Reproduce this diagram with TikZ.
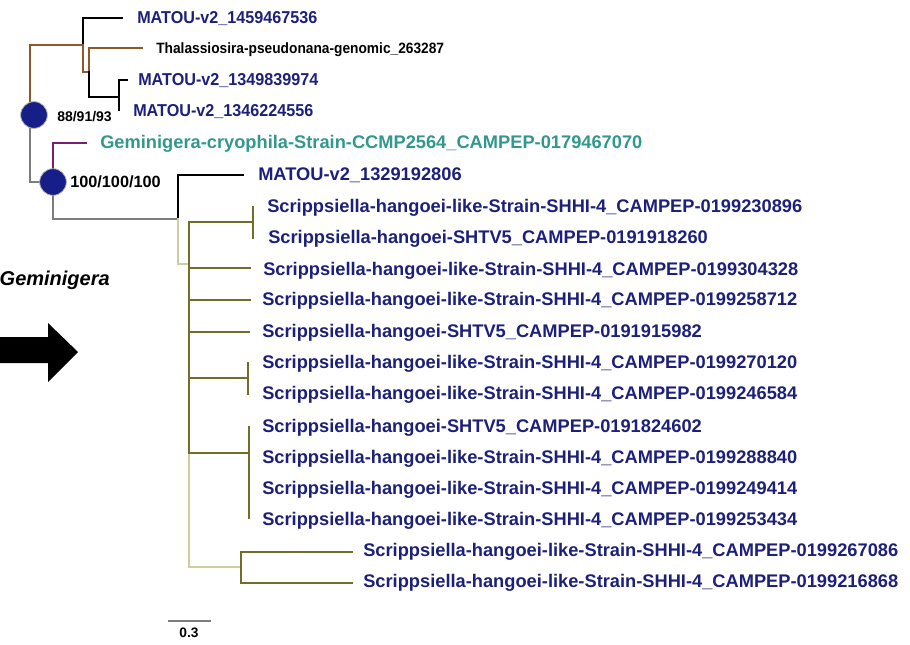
\documentclass[tikz,border=0pt]{standalone}
\usepackage{fontspec}
\setmainfont{Liberation Sans}
\usetikzlibrary{positioning}
\definecolor{tipblue}{RGB}{28,32,122}
\definecolor{tipteal}{RGB}{50,152,142}
\definecolor{brbrown}{RGB}{140,90,40}
\definecolor{brpurple}{RGB}{120,30,110}
\definecolor{brolive}{RGB}{112,110,40}
\definecolor{brpale}{RGB}{205,205,160}
\definecolor{brgrey}{RGB}{125,125,125}
\definecolor{bootblue}{RGB}{22,30,135}
\newcommand{\narrowtext}[2]{\scalebox{#1}[1]{#2}}
\tikzset{
  branch/.style={line width=1.4pt, line cap=rect},
  tip/.style={anchor=west, inner sep=0pt, text height=1.5ex, text depth=0pt,
    font=\bfseries\fontsize{13.7}{16}\selectfont, text=tipblue},
  smalltip/.style={tip, font=\bfseries\fontsize{12.9}{15}\selectfont},
  boot/.style={circle, fill=bootblue, draw=gray!60, line width=0.6pt,
    minimum size=20pt, inner sep=0pt},
  support/.style={anchor=west, inner sep=0pt, text height=1.5ex, text depth=0pt}
}

\begin{document}
\begin{tikzpicture}[x=0.75pt, y=-0.75pt]
\useasboundingbox (0,0) rectangle (910,644);

% internal nodes
\coordinate (a) at (30,115);
\coordinate (b) at (83,45);
\coordinate (c) at (89,72);
\coordinate (d) at (119,97);
\coordinate (e) at (53,182);
\coordinate (f) at (178,219);
\coordinate (g) at (189,264);
\coordinate (h1) at (253,222);
\coordinate (h2) at (248,378);
\coordinate (h3) at (249,453);
\coordinate (h4) at (241,567);

% branch ends
\coordinate (t1) at (122,18);
\coordinate (t2) at (142,48);
\coordinate (t3) at (127,80);
\coordinate (t4) at (119,110);
\coordinate (t5) at (86,143);
\coordinate (t6) at (243,175);
\coordinate (t7) at (253,207);
\coordinate (t8) at (253,238);
\coordinate (t9) at (250,268);
\coordinate (t10) at (250,300);
\coordinate (t11) at (249,332);
\coordinate (t12) at (248,363);
\coordinate (t13) at (248,394);
\coordinate (t14) at (249,427);
\coordinate (t15) at (249,458);
\coordinate (t16) at (249,489);
\coordinate (t17) at (249,518);
\coordinate (t18) at (352,552);
\coordinate (t19) at (352,583);

% upper clade
\draw[branch, brbrown] (a) |- (b);
\draw[branch, brgrey] (a) |- (e);
\draw[branch] (b) |- (t1);
\draw[branch, brbrown] (b) |- (c);
\draw[branch, brbrown] (c) |- (t2);
\draw[branch] (c) |- (d);
\draw[branch] (d) |- (t3);
\draw[branch] (d) |- (t4);

% lower clade
\draw[branch, brpurple] (e) |- (t5);
\draw[branch, brgrey] (e) |- (f);
\draw[branch] (f) |- (t6);
\draw[branch, brpale] (f) |- (g);
\draw[branch, brpale] (g) |- (h4);
\draw[branch, brolive] (g) |- (h1);
\draw[branch, brolive] (g) |- (t9);
\draw[branch, brolive] (g) |- (t10);
\draw[branch, brolive] (g) |- (t11);
\draw[branch, brolive] (g) |- (h2);
\draw[branch, brolive] (g) |- (h3);
\draw[branch, brolive] (h1) |- (t7);
\draw[branch, brolive] (h1) |- (t8);
\draw[branch, brolive] (h2) |- (t12);
\draw[branch, brolive] (h2) |- (t13);
\draw[branch, brolive] (h3) |- (t14);
\draw[branch, brolive] (h3) |- (t17);
\draw[branch, brolive] (h4) |- (t18);
\draw[branch, brolive] (h4) |- (t19);

% bootstrap support
\node[boot] (ba) at (34,115) {};
\node[boot] (be) at (53,182) {};
\node[support, font=\bfseries\fontsize{10.5}{12}\selectfont] (sa) at (57,116) {88/91/93};
\node[support, font=\bfseries\fontsize{12.2}{14}\selectfont] (se) at (70,182) {100/100/100};

% tip labels
\node[smalltip] (l1) at (137,18) {\narrowtext{0.94}{MATOU-v2\_1459467536}};
\node[tip, text=black, font=\bfseries\fontsize{11.2}{13}\selectfont] (l2) at (156,48) {\narrowtext{0.92}{Thalassiosira-pseudonana-genomic\_263287}};
\node[smalltip] (l3) at (138,80) {\narrowtext{0.94}{MATOU-v2\_1349839974}};
\node[smalltip] (l4) at (133,111) {\narrowtext{0.94}{MATOU-v2\_1346224556}};
\node[tip, text=tipteal] (l5) at (100,143) {Geminigera-cryophila-Strain-CCMP2564\_CAMPEP-0179467070};
\node[tip] (l6) at (258,175) {MATOU-v2\_1329192806};
\node[tip] (l7) at (267,207) {Scrippsiella-hangoei-like-Strain-SHHI-4\_CAMPEP-0199230896};
\node[tip] (l8) at (268,238) {Scrippsiella-hangoei-SHTV5\_CAMPEP-0191918260};
\node[tip] (l9) at (263,270) {Scrippsiella-hangoei-like-Strain-SHHI-4\_CAMPEP-0199304328};
\node[tip] (l10) at (262,300) {Scrippsiella-hangoei-like-Strain-SHHI-4\_CAMPEP-0199258712};
\node[tip] (l11) at (262,332) {Scrippsiella-hangoei-SHTV5\_CAMPEP-0191915982};
\node[tip] (l12) at (262,363) {Scrippsiella-hangoei-like-Strain-SHHI-4\_CAMPEP-0199270120};
\node[tip] (l13) at (262,394) {Scrippsiella-hangoei-like-Strain-SHHI-4\_CAMPEP-0199246584};
\node[tip] (l14) at (262,427) {Scrippsiella-hangoei-SHTV5\_CAMPEP-0191824602};
\node[tip] (l15) at (262,458) {Scrippsiella-hangoei-like-Strain-SHHI-4\_CAMPEP-0199288840};
\node[tip] (l16) at (262,489) {Scrippsiella-hangoei-like-Strain-SHHI-4\_CAMPEP-0199249414};
\node[tip] (l17) at (262,520) {Scrippsiella-hangoei-like-Strain-SHHI-4\_CAMPEP-0199253434};
\node[tip] (l18) at (363,551) {Scrippsiella-hangoei-like-Strain-SHHI-4\_CAMPEP-0199267086};
\node[tip] (l19) at (363,582) {Scrippsiella-hangoei-like-Strain-SHHI-4\_CAMPEP-0199216868};

% scale bar
\coordinate (s0) at (168,621);
\coordinate (s1) at (211,621);
\draw[brgrey, line width=0.9pt] (s0) -- (s1);
\node[inner sep=0pt, font=\bfseries\fontsize{10.3}{12}\selectfont] (sl) at (189,633) {0.3};

% side note and arrow
\node[anchor=east, inner sep=0pt, font=\bfseries\itshape\fontsize{15}{18}\selectfont] (gem) at (110,280) {Geminigera};
\fill (-5,337) -- (48,337) -- (48,323) -- (78,352) -- (48,382) -- (48,363) -- (-5,363) -- cycle;
\end{tikzpicture}
\end{document}
